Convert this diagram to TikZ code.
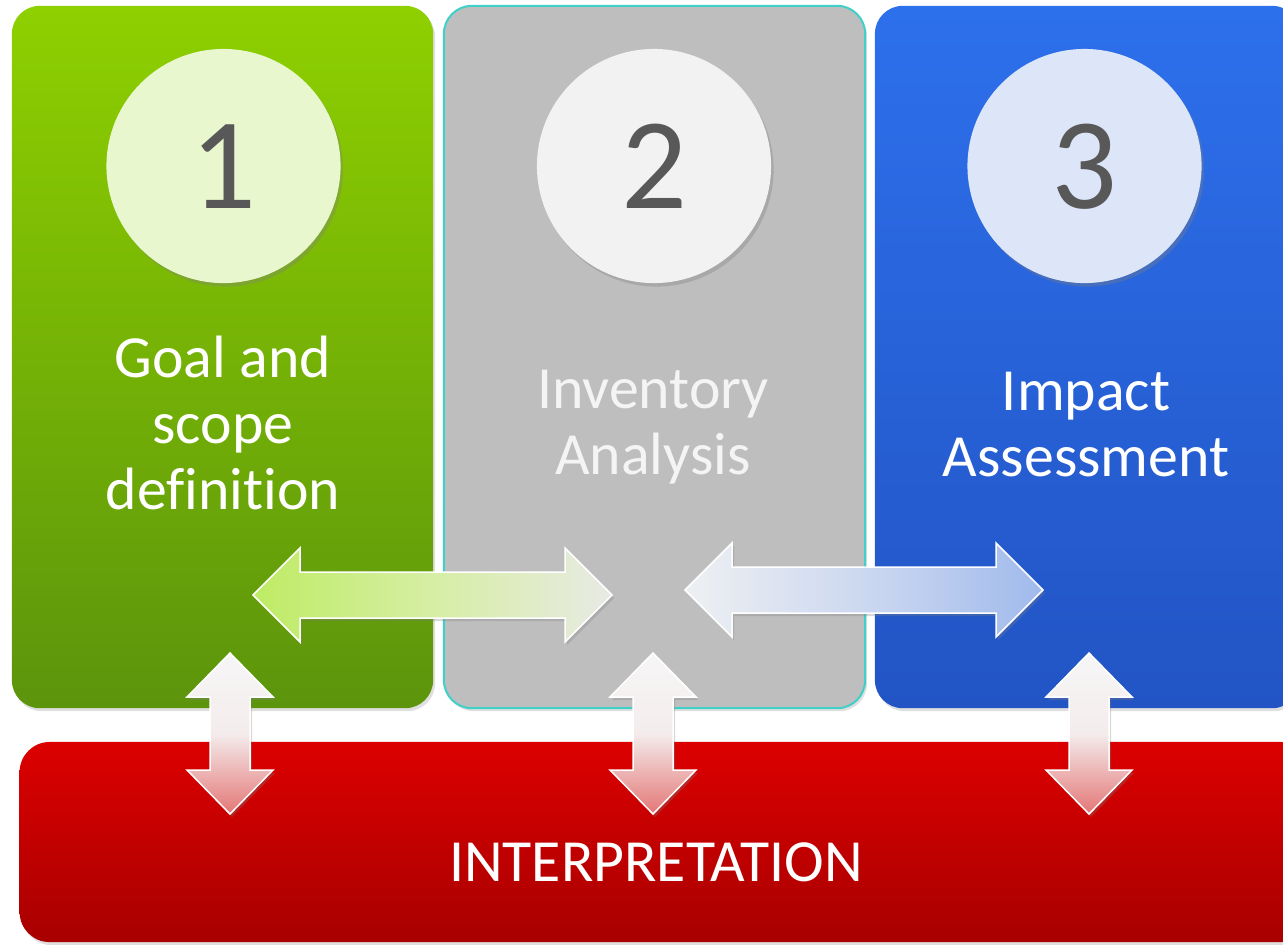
\documentclass[tikz,border=0pt]{standalone}
\usepackage{fontspec}
\setmainfont[Ligatures=NoCommon]{Carlito}
\usetikzlibrary{shadows}
\definecolor{greenTop}{RGB}{142,208,0}
\definecolor{greenBot}{RGB}{92,148,12}
\definecolor{grayBox}{RGB}{190,190,190}
\definecolor{tealLine}{RGB}{64,208,200}
\definecolor{blueTop}{RGB}{45,112,236}
\definecolor{blueBot}{RGB}{34,84,196}
\definecolor{redTop}{RGB}{220,0,0}
\definecolor{redBot}{RGB}{168,0,0}
\definecolor{discGreen}{RGB}{232,247,206}
\definecolor{discGray}{RGB}{242,242,242}
\definecolor{discBlue}{RGB}{220,230,248}
\definecolor{numGray}{RGB}{88,88,88}
\definecolor{lightText}{RGB}{244,244,244}
\definecolor{limeL}{RGB}{190,236,100}
\definecolor{limeM}{RGB}{214,238,164}
\definecolor{limeR}{RGB}{232,234,228}
\definecolor{skyL}{RGB}{238,240,242}
\definecolor{skyM}{RGB}{204,216,240}
\definecolor{skyR}{RGB}{160,186,236}
\definecolor{pinkT}{RGB}{246,246,246}
\definecolor{pinkM}{RGB}{244,236,236}
\definecolor{pinkB}{RGB}{228,118,118}
\newcommand\harw[3]{(#1,#3) -- ({#1+47},{#3-47}) -- ({#1+47},{#3-23}) -- ({#2-47},{#3-23}) -- ({#2-47},{#3-47}) -- (#2,#3) -- ({#2-47},{#3+47}) -- ({#2-47},{#3+23}) -- ({#1+47},{#3+23}) -- ({#1+47},{#3+47}) -- cycle}
\newcommand\varw[3]{(#1,#2) -- ({#1+43},{#2+44}) -- ({#1+20},{#2+44}) -- ({#1+20},{#3-44}) -- ({#1+43},{#3-44}) -- (#1,#3) -- ({#1-43},{#3-44}) -- ({#1-20},{#3-44}) -- ({#1-20},{#2+44}) -- ({#1-43},{#2+44}) -- cycle}
\begin{document}
\begin{tikzpicture}[x=0.01cm,y=-0.01cm,
  panel/.style={rounded corners=0.28cm, inner sep=0pt, minimum height=7.02cm,
    drop shadow={shadow xshift=0.02cm, shadow yshift=-0.03cm, opacity=0.25}},
  disc/.style={circle, inner sep=0pt, minimum size=2.34cm,
    drop shadow={shadow xshift=0.025cm, shadow yshift=-0.035cm, opacity=0.35}},
  lbl/.style={text=white, font=\fontsize{17}{18.8}\selectfont, anchor=base, inner sep=0pt},
  num/.style={text=numGray, font=\fontsize{37}{40}\selectfont, anchor=base, inner sep=0pt},
  blockarrow/.style={draw=white, line width=0.015cm, line join=miter,
    drop shadow={shadow xshift=0.02cm, shadow yshift=-0.03cm, opacity=0.3}}
]
\useasboundingbox (0,0) rectangle (1283,944);
\clip (0,0) rectangle (1283,944);
\fill[white] (0,0) rectangle (1283,944);

% panels
\node[panel, top color=greenTop, bottom color=greenBot, minimum width=4.21cm] (goal) at (222.5,357) {};
\node[panel, fill=grayBox, draw=tealLine, line width=0.02cm, minimum width=4.21cm] (inv) at (654.5,357) {};
\node[panel, top color=blueTop, bottom color=blueBot, minimum width=4.25cm] (imp) at (1087.5,357) {};
\node[panel, top color=redTop, bottom color=redBot, rounded corners=0.3cm, minimum width=12.9cm, minimum height=2.0cm] (interp) at (665,842) {};

% discs and numbers
\node[disc, fill=discGreen] (d1) at (223.5,166) {};
\node[disc, fill=discGray] (d2) at (654,166) {};
\node[disc, fill=discBlue] (d3) at (1084.5,166) {};
\node[num] (n1) at (223.5,208) {1};
\node[num] (n2) at (654,208) {2};
\node[num] (n3) at (1084.5,208) {3};

% labels
\node[lbl] (t1) at (223,377) {\begin{tabular}[t]{@{}c@{}}Goal and\\scope\\definition\end{tabular}};
\node[lbl, text=lightText] (t2) at (653,408) {\begin{tabular}[t]{@{}c@{}}Inventory\\Analysis\end{tabular}};
\node[lbl] (t3) at (1086,410) {\begin{tabular}[t]{@{}c@{}}Impact\\Assessment\end{tabular}};
\node[lbl] (t4) at (656,881) {INTERPRETATION};

% horizontal double arrows
\shadedraw[blockarrow, left color=limeL, right color=limeR, middle color=limeM] \harw{253}{612}{595};
\shadedraw[blockarrow, left color=skyL, right color=skyR, middle color=skyM] \harw{685}{1043}{590};

% vertical double arrows
\shadedraw[blockarrow, top color=pinkT, bottom color=pinkB, middle color=pinkM] \varw{230}{653}{814};
\shadedraw[blockarrow, top color=pinkT, bottom color=pinkB, middle color=pinkM] \varw{653}{653}{814};
\shadedraw[blockarrow, top color=pinkT, bottom color=pinkB, middle color=pinkM] \varw{1089}{653}{814};
\end{tikzpicture}
\end{document}
